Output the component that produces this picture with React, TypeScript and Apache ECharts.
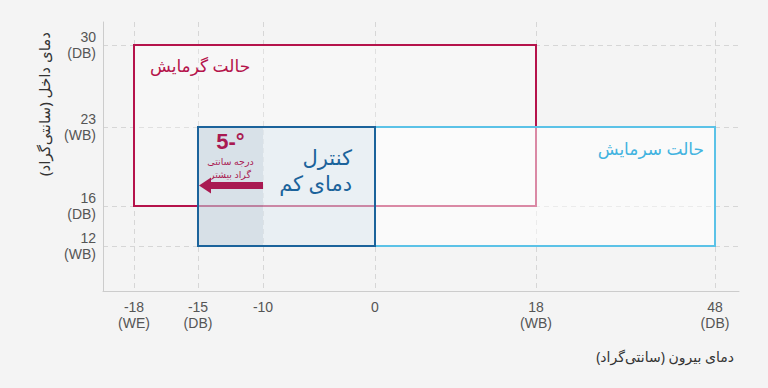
import React, { useEffect, useRef } from 'react';
import * as echarts from 'echarts';

// ---- data ----
const xTicks = [-18, -15, -10, 0, 18, 48];
const xTickLabels = ['-18\n(WE)', '-15\n(DB)', '-10', '0', '18\n(WB)', '48\n(DB)'];
const yTicks = [12, 16, 23, 30];
const yTickLabels = ['12\n(WB)', '16\n(DB)', '23\n(WB)', '30\n(DB)'];

const modeNames = ['حالت گرمایش', 'حالت سرمایش', 'کنترل\nدمای کم'];
const modeOutdoorMin = [-18, -15, -15];
const modeOutdoorMax = [18, 48, 0];
const modeIndoorMin = [16, 12, 12];
const modeIndoorMax = [30, 23, 23];

const extOutdoorMin = -15;
const extOutdoorMax = -10;
const extLabel = '5-°';
const extSubLabel = 'درجه سانتی\nگراد بیشتر';

const xAxisName = 'دمای بیرون (سانتی‌گراد)';
const yAxisName = 'دمای داخل (سانتی‌گراد)';

// ---- non-linear scale definition (axis units for each tick) ----
const xScalePos = [31, 95, 160, 272, 433, 612];
const xScaleMax = 636;
const yScalePos = [45, 85, 164, 246];
const yScaleMax = 269;

function warp(v: number, ticks: number[], pos: number[]): number {
  const n = ticks.length;
  let i = 0;
  if (v <= ticks[0]) i = 0;
  else if (v >= ticks[n - 1]) i = n - 2;
  else {
    for (let k = 0; k < n - 1; k++) {
      if (v >= ticks[k] && v <= ticks[k + 1]) { i = k; break; }
    }
  }
  const t = (v - ticks[i]) / (ticks[i + 1] - ticks[i]);
  return pos[i] + t * (pos[i + 1] - pos[i]);
}
const wx = (v: number) => warp(v, xTicks, xScalePos);
const wy = (v: number) => warp(v, yTicks, yScalePos);

const RED = '#b5134b';
const LIGHT = '#5bc2e7';
const DARK = '#1b639b';
const FONT = '"Noto Sans", "DejaVu Sans", sans-serif';
const TICKFONT = '"Liberation Sans", "DejaVu Sans", sans-serif';

export default function App() {
  const ref = useRef<HTMLDivElement>(null);
  useEffect(() => {
    if (!ref.current) return;
    const chart = echarts.init(ref.current, undefined, { renderer: 'svg' });

    // kind: 0 heating, 1 cooling, 2 extension, 3 low-temp control
    const data = [
      [wx(modeOutdoorMin[0]), wy(modeIndoorMin[0]), wx(modeOutdoorMax[0]), wy(modeIndoorMax[0]), 0],
      [wx(modeOutdoorMin[1]), wy(modeIndoorMin[1]), wx(modeOutdoorMax[1]), wy(modeIndoorMax[1]), 1],
      [wx(extOutdoorMin), wy(modeIndoorMin[2]), wx(extOutdoorMax), wy(modeIndoorMax[2]), 2],
      [wx(modeOutdoorMin[2]), wy(modeIndoorMin[2]), wx(modeOutdoorMax[2]), wy(modeIndoorMax[2]), 3],
    ];

    const renderItem = (params: any, api: any) => {
      const kind = api.value(4);
      const p1 = api.coord([api.value(0), api.value(3)]);
      const p2 = api.coord([api.value(2), api.value(1)]);
      const x = p1[0], y = p1[1], w = p2[0] - p1[0], h = p2[1] - p1[1];
      if (kind === 0) {
        return {
          type: 'group',
          children: [
            { type: 'rect', shape: { x, y, width: w, height: h }, style: { fill: 'rgba(255,255,255,0.25)', stroke: RED, lineWidth: 2 } },
            { type: 'text', style: { x: x + 16, y: y + 20, text: modeNames[0], fill: RED, fontSize: 17, fontFamily: FONT, align: 'left', verticalAlign: 'middle' } },
          ],
        };
      }
      if (kind === 1) {
        return {
          type: 'group',
          children: [
            { type: 'rect', shape: { x, y, width: w, height: h }, style: { fill: 'rgba(255,255,255,0.5)', stroke: LIGHT, lineWidth: 2 } },
            { type: 'text', style: { x: x + w - 11, y: y + 21, text: modeNames[1], fill: '#42b3e0', fontSize: 17, fontFamily: FONT, align: 'right', verticalAlign: 'middle' } },
          ],
        };
      }
      if (kind === 2) {
        const cy = y + 58.5;
        const tip = x + 1;
        const headBase = tip + 12;
        const tail = x + w;
        const cx = x + w / 2;
        return {
          type: 'group',
          children: [
            { type: 'rect', shape: { x, y, width: w, height: h }, style: { fill: 'rgba(40,80,110,0.09)' } },
            { type: 'text', style: { x: cx, y: y + 14, text: extLabel, fill: RED, fontSize: 22, fontWeight: 'bold', fontFamily: TICKFONT, align: 'center', verticalAlign: 'middle' } },
            { type: 'text', style: { x: cx, y: y + 40.5, text: extSubLabel, fill: RED, fontSize: 9.5, lineHeight: 13, fontFamily: FONT, align: 'center', verticalAlign: 'middle' } },
            {
              type: 'polygon',
              shape: {
                points: [
                  [tip, cy],
                  [headBase, cy - 8],
                  [headBase, cy - 3.5],
                  [tail, cy - 3.5],
                  [tail, cy + 3.5],
                  [headBase, cy + 3.5],
                  [headBase, cy + 8],
                ],
              },
              style: { fill: RED },
            },
          ],
        };
      }
      return {
        type: 'group',
        children: [
          { type: 'rect', shape: { x, y, width: w, height: h }, style: { fill: 'rgba(40,110,160,0.08)', stroke: DARK, lineWidth: 2 } },
          { type: 'text', style: { x: x + w - 23, y: y + 43, text: modeNames[2], fill: DARK, fontSize: 21, lineHeight: 26, fontFamily: FONT, align: 'right', verticalAlign: 'middle' } },
        ],
      };
    };

    const labelOf = (v: number, pos: number[], labels: string[]) => {
      for (let i = 0; i < pos.length; i++) if (Math.abs(pos[i] - v) < 0.01) return labels[i];
      return '';
    };

    chart.setOption({
      animation: false,
      backgroundColor: '#f4f4f4',
      grid: { left: 103, right: 29, top: 22, bottom: 97 },
      xAxis: {
        type: 'value',
        min: 0,
        max: xScaleMax,
        name: xAxisName,
        nameLocation: 'end',
        nameGap: -5,
        nameTextStyle: { color: '#333', fontSize: 14, fontFamily: FONT, align: 'right', verticalAlign: 'top', padding: [58, 0, 0, 0] },
        axisLine: { show: true, onZero: false, lineStyle: { color: '#cccccc', width: 1 } },
        axisTick: { show: false, customValues: xScalePos },
        axisLabel: {
          customValues: xScalePos,
          formatter: (v: number) => labelOf(v, xScalePos, xTickLabels),
          color: '#555',
          fontSize: 14,
          lineHeight: 16,
          margin: 8,
          fontFamily: TICKFONT,
        },
        splitLine: { show: true, lineStyle: { color: '#d6d6d6', type: [5, 4], width: 1 } },
      },
      yAxis: {
        type: 'value',
        min: 0,
        max: yScaleMax,
        axisLine: { show: true, lineStyle: { color: '#cccccc', width: 1 } },
        axisTick: { show: false, customValues: yScalePos },
        axisLabel: {
          customValues: yScalePos,
          formatter: (v: number) => labelOf(v, yScalePos, yTickLabels),
          color: '#555',
          fontSize: 14,
          lineHeight: 16,
          margin: 7,
          fontFamily: TICKFONT,
        },
        splitLine: { show: true, lineStyle: { color: '#d6d6d6', type: [5, 4], width: 1 } },
      },
      graphic: [
        {
          type: 'text',
          x: 44,
          y: 104,
          rotation: Math.PI / 2,
          style: { text: yAxisName, fill: '#333', fontSize: 15, fontFamily: FONT, align: 'center', verticalAlign: 'middle' },
        },
      ],
      series: [
        {
          type: 'custom',
          renderItem,
          data,
          clip: false,
          encode: { x: [0, 2], y: [1, 3] },
        },
      ],
    });
    return () => chart.dispose();
  }, []);
  return <div ref={ref} style={{ position: 'fixed', left: 0, top: 0, width: 768, height: 388 }} />;
}
